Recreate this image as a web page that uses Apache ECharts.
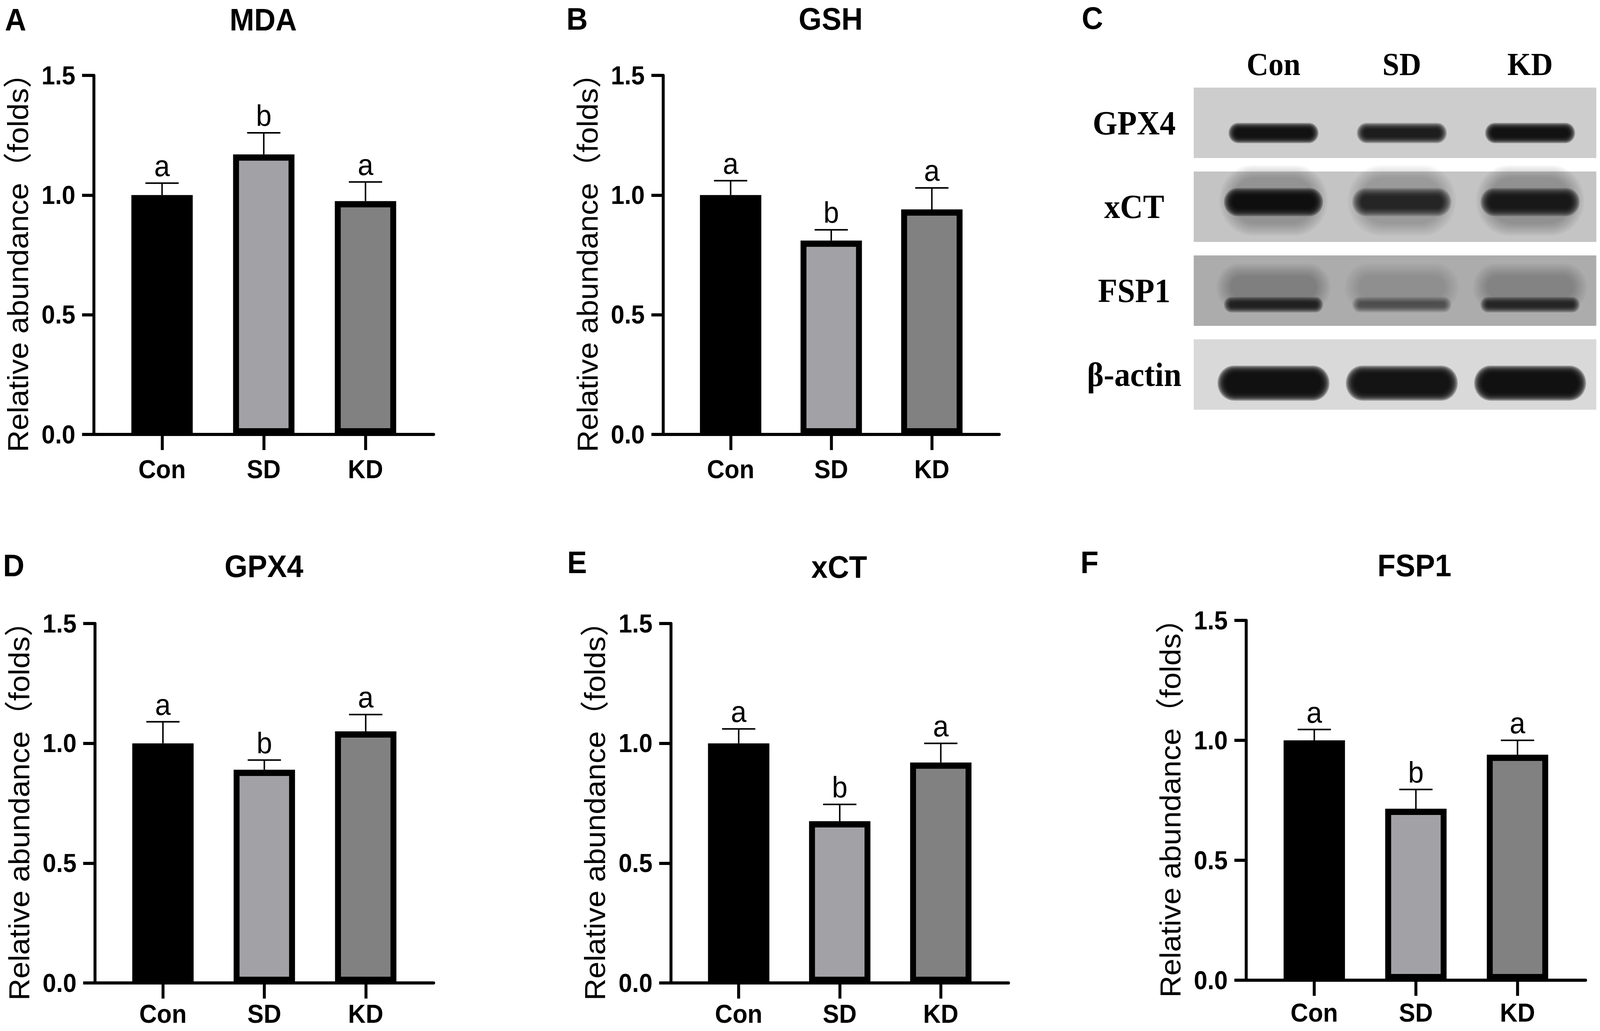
<!DOCTYPE html>
<html>
<head>
<meta charset="utf-8">
<title>Oxidative stress and ferroptosis markers</title>
<script src="https://cdn.jsdelivr.net/npm/echarts@6/dist/echarts.min.js"></script>
<style>
  html, body { margin: 0; padding: 0; background: #fff; overflow: hidden; }
  #chart { width: 4328px; height: 2639px; transform-origin: 0 0; }
</style>
</head>
<body>
<div id="chart"></div>
<script>
// groups and significance letters shared by every bar panel
const groups = ['Con', 'SD', 'KD']
const sigLetters = ['a', 'b', 'a']

// bar heights (mean) and upper error (SEM)
const mdaMean = [1.0, 1.17, 0.975]
const mdaSem = [0.05, 0.09, 0.08]
const gshMean = [1.0, 0.81, 0.94]
const gshSem = [0.06, 0.045, 0.09]
const gpx4Mean = [1.0, 0.89, 1.05]
const gpx4Sem = [0.09, 0.04, 0.07]
const xctMean = [1.0, 0.675, 0.92]
const xctSem = [0.06, 0.07, 0.08]
const fsp1Mean = [1.0, 0.715, 0.94]
const fsp1Sem = [0.045, 0.08, 0.06]

// western blot (panel C): band darkness per lane
const blotLanes = ['Con', 'SD', 'KD']
const blotProteins = ['GPX4', 'xCT', 'FSP1', 'β-actin']
const gpx4Band = [0.95, 0.85, 0.95]
const xctBand = [0.95, 0.72, 0.85]
const fsp1Band = [0.75, 0.5, 0.72]
const actinBand = [1, 0.97, 1]

const SANS = "'Liberation Sans', Arial, 'Noto Sans CJK SC', sans-serif"
const SERIF = "'Liberation Serif', 'Times New Roman', serif"
const barFill = ['#000000', '#a2a2a6', '#818181']

const panels = [
  {tag: 'A', title: 'MDA', mean: mdaMean, sem: mdaSem, labelGap: 56,
    grid: {left: 254, top: 193, width: 919, height: 919}, tagAt: [42, 50], titleAt: [712, 50]},
  {tag: 'B', title: 'GSH', mean: gshMean, sem: gshSem, labelGap: 56,
    grid: {left: 1794, top: 193, width: 909, height: 919}, tagAt: [1561, 48], titleAt: [2247, 48]},
  {tag: 'D', title: 'GPX4', mean: gpx4Mean, sem: gpx4Sem, labelGap: 46,
    grid: {left: 257, top: 1596, width: 916, height: 920}, tagAt: [37, 1447], titleAt: [714, 1449]},
  {tag: 'E', title: 'xCT', mean: xctMean, sem: xctSem, labelGap: 46,
    grid: {left: 1815, top: 1596, width: 913, height: 920}, tagAt: [1561, 1439], titleAt: [2270, 1451]},
  {tag: 'F', title: 'FSP1', mean: fsp1Mean, sem: fsp1Sem, labelGap: 50,
    grid: {left: 3371, top: 1588, width: 918, height: 921}, tagAt: [2947, 1439], titleAt: [3826, 1447]}
]

const grids = []
const xAxes = []
const yAxes = []
const series = []
const graphics = []

const bigText = (txt, at) => ({
  type: 'text', x: at[0], y: at[1],
  style: {text: txt, fontSize: 80, fontWeight: 'bold', fontFamily: SANS, fill: '#000',
    align: 'center', verticalAlign: 'middle'}
})

panels.forEach((p, i) => {
  grids.push(p.grid)
  xAxes.push({
    gridIndex: i, type: 'value', min: -0.67, max: 2.67,
    axisLine: {show: true, onZero: false, lineStyle: {color: '#000', width: 8}},
    axisTick: {show: true, customValues: [0, 1, 2], length: 40, lineStyle: {color: '#000', width: 8}},
    axisLabel: {customValues: [0, 1, 2], formatter: v => groups[v], margin: p.labelGap,
      color: '#000', fontSize: 66, fontWeight: 'bold', fontFamily: SANS},
    splitLine: {show: false}
  })
  yAxes.push({
    gridIndex: i, type: 'value', min: 0, max: 1.5, interval: 0.5,
    name: 'Relative abundance（folds）', nameLocation: 'middle', nameGap: 166,
    nameTextStyle: {color: '#000', fontSize: 78, fontFamily: SANS},
    axisLine: {show: true, onZero: false, lineStyle: {color: '#000', width: 8}},
    axisTick: {show: true, length: 32, lineStyle: {color: '#000', width: 8}},
    axisLabel: {formatter: v => v.toFixed(1), margin: 50,
      color: '#000', fontSize: 66, fontWeight: 'bold', fontFamily: SANS},
    splitLine: {show: false}
  })
  series.push({
    type: 'bar', xAxisIndex: i, yAxisIndex: i, barWidth: 166,
    itemStyle: {borderColor: '#000', borderWidth: 16},
    data: p.mean.map((v, j) => ({value: [j, v], itemStyle: {color: barFill[j]}}))
  })
  series.push({
    type: 'custom', xAxisIndex: i, yAxisIndex: i, clip: false, z: 5,
    data: p.mean.map((v, j) => [j, v, p.sem[j]]),
    renderItem(params, api) {
      const x = api.value(0), m = api.value(1), e = api.value(2)
      const base = api.coord([x, m])
      const top = api.coord([x, m + e])
      const ln = {stroke: '#000', lineWidth: 4}
      return {
        type: 'group',
        children: [
          {type: 'line', shape: {x1: base[0], y1: base[1], x2: top[0], y2: top[1]}, style: ln},
          {type: 'line', shape: {x1: top[0] - 45, y1: top[1], x2: top[0] + 45, y2: top[1]}, style: ln},
          {type: 'text', x: top[0], y: top[1] - 6,
            style: {text: sigLetters[params.dataIndex], fontSize: 76, fontFamily: SANS, fill: '#000',
              align: 'center', verticalAlign: 'bottom'}}
        ]
      }
    }
  })
  graphics.push(bigText(p.tag, p.tagAt), bigText(p.title, p.titleAt))
})

// ---- panel C: western blot ----
const bi = panels.length
const bandRows = [gpx4Band, xctBand, fsp1Band, actinBand]
const stripFill = ['#cdcdcd', '#c4c4c4', '#acacac', '#d9d9d9']
// band look per row (px): core size, vertical shift, blur spread, and smear around the band
const bandStyle = [
  {w: 205, h: 20, dy: 26, spread: 16, smear: null},
  {w: 220, h: 32, dy: -12, spread: 20, smear: {dy: -4, h: 120, a: 0.045}},
  {w: 235, h: 12, dy: 36, spread: 14, smear: {dy: -45, h: 60, a: 0.05}},
  {w: 255, h: 50, dy: 22, spread: 20, smear: null}
]

// stacked translucent capsules give a soft blurred blot band
function softBand(cx, cy, w, h, spread, alpha, n) {
  const out = []
  for (let i = n; i >= 0; i--) {
    const e = spread * i / n
    const ww = w + 2.4 * e, hh = h + 2 * e
    out.push({type: 'rect', shape: {x: cx - ww / 2, y: cy - hh / 2, width: ww, height: hh, r: hh / 2},
      style: {fill: 'rgba(12,12,12,' + alpha.toFixed(3) + ')'}})
  }
  return out
}

grids.push({left: 3229, top: 207, width: 1089, height: 859})
xAxes.push({
  gridIndex: bi, type: 'value', min: -0.622, max: 2.516, position: 'top',
  axisLine: {show: false}, axisTick: {show: false}, splitLine: {show: false},
  axisLabel: {customValues: [0, 1, 2], formatter: v => blotLanes[v], margin: 2,
    color: '#000', fontSize: 82, fontWeight: 'bold', fontFamily: SERIF}
})
yAxes.push({
  gridIndex: bi, type: 'category', data: blotProteins, inverse: true,
  axisLine: {show: false}, axisTick: {show: false}, splitLine: {show: false},
  axisLabel: {margin: 161, align: 'center', color: '#000', fontSize: 86, fontWeight: 'bold', fontFamily: SERIF}
})
series.push({
  type: 'custom', xAxisIndex: bi, yAxisIndex: bi, clip: false,
  data: blotProteins.map((p, r) => [0, r]),
  renderItem(params, api) {
    const r = api.value(1)
    const c = api.coord([0, r])
    const h = api.size([0, 1])[1] * 0.84
    const cs = params.coordSys
    return {type: 'rect', shape: {x: cs.x, y: c[1] - h / 2, width: cs.width, height: h},
      style: {fill: stripFill[r]}}
  }
})
const bandData = []
bandRows.forEach((row, r) => row.forEach((v, l) => bandData.push([l, r, v])))
series.push({
  type: 'custom', xAxisIndex: bi, yAxisIndex: bi, clip: false, z: 3,
  data: bandData,
  renderItem(params, api) {
    const l = api.value(0), r = api.value(1), k = api.value(2)
    const st = bandStyle[r]
    const c = api.coord([l, r])
    const cx = c[0], cy = c[1] + st.dy
    let kids = []
    if (st.smear) {
      kids = kids.concat(softBand(cx, cy + st.smear.dy, st.w, st.smear.h, 30, st.smear.a * k, 6))
    }
    kids = kids.concat(softBand(cx, cy, st.w, st.h, st.spread, 0.32 * k * k, 8))
    return {type: 'group', children: kids}
  }
})
graphics.push(bigText('C', [2955, 46]))

const dom = document.getElementById('chart')
// the layout is drawn at 4328x2639; squeeze it into the viewport if the window is smaller
const fx = Math.min(1, window.innerWidth / 4328)
const fy = Math.min(1, window.innerHeight / 2639)
if (fx < 1 || fy < 1) dom.style.transform = 'scale(' + fx + ',' + fy + ')'

const chart = echarts.init(dom, null, {renderer: 'svg'})
chart.setOption({
  backgroundColor: '#fff',
  animation: false,
  grid: grids,
  xAxis: xAxes,
  yAxis: yAxes,
  series: series,
  graphic: graphics
})
</script>
</body>
</html>
